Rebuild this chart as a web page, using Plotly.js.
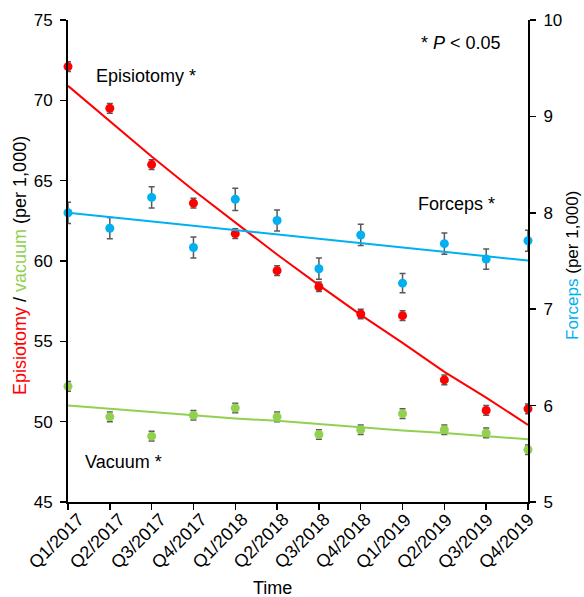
<!DOCTYPE html>
<html>
<head>
<meta charset="utf-8">
<script src="https://cdn.plot.ly/plotly-3.0.1.min.js"></script>
<style>html,body{margin:0;padding:0;background:#fff;}#chart{width:584px;height:597px;}</style>
</head>
<body>
<div id="chart"></div>
<script>
const quarters = ["Q1/2017","Q2/2017","Q3/2017","Q4/2017","Q1/2018","Q2/2018","Q3/2018","Q4/2018","Q1/2019","Q2/2019","Q3/2019","Q4/2019"];
const episiotomy = [72.1, 69.5, 66.0, 63.6, 61.7, 59.4, 58.4, 56.7, 56.6, 52.6, 50.7, 50.8];
const episiotomyErr = [0.3, 0.3, 0.3, 0.3, 0.3, 0.3, 0.3, 0.3, 0.3, 0.3, 0.3, 0.3];
const episiotomyTrend = [70.9, 68.7, 66.5, 64.4, 62.4, 60.4, 58.5, 56.65, 54.9, 53.1, 51.5, 49.8];
const vacuum = [52.2, 50.3, 49.1, 50.4, 50.85, 50.3, 49.2, 49.5, 50.5, 49.5, 49.3, 48.25];
const vacuumErr = [0.3, 0.3, 0.3, 0.3, 0.3, 0.3, 0.3, 0.3, 0.3, 0.3, 0.3, 0.3];
const vacuumTrend = [51.0, 50.8, 50.6, 50.4, 50.2, 50.05, 49.85, 49.65, 49.45, 49.3, 49.1, 48.9];
const forceps = [8.0, 7.84, 8.16, 7.64, 8.14, 7.92, 7.42, 7.77, 7.27, 7.68, 7.52, 7.71];
const forcepsErr = [0.11, 0.11, 0.11, 0.11, 0.115, 0.11, 0.11, 0.11, 0.10, 0.11, 0.105, 0.11];
const forcepsTrend = [8.0, 7.955, 7.91, 7.865, 7.82, 7.775, 7.73, 7.685, 7.64, 7.595, 7.55, 7.505];

const RED = "#ff0000", GREEN = "#92d050", BLUE = "#00b0f0", ERR = "#595959";
const FONT = "Liberation Sans, Arial, sans-serif";

function pts(y, err, color, axis) {
  return {
    x: quarters, y: y, type: "scatter", mode: "markers", yaxis: axis, cliponaxis: false,
    marker: {color: color, size: 9},
    error_y: {type: "data", array: err, visible: true, color: ERR, thickness: 1.5, width: 3},
    showlegend: false, hoverinfo: "skip"
  };
}
function trend(y, color, axis) {
  return {x: quarters, y: y, type: "scatter", mode: "lines", yaxis: axis, cliponaxis: false,
    line: {color: color, width: 2}, showlegend: false, hoverinfo: "skip"};
}

const data = [
  pts(vacuum, vacuumErr, GREEN, "y"),
  pts(episiotomy, episiotomyErr, RED, "y"),
  pts(forceps, forcepsErr, BLUE, "y2"),
  trend(vacuumTrend, GREEN, "y"),
  trend(episiotomyTrend, RED, "y"),
  trend(forcepsTrend, BLUE, "y2")
];

const ann = (text, x, y, extra) => Object.assign({
  text: text, x: x, y: y, xref: "paper", yref: "paper", showarrow: false,
  xanchor: "center", yanchor: "middle", font: {family: FONT, size: 18, color: "#000"}
}, extra || {});

const axisCommon = {
  showgrid: false, zeroline: false,
  showline: true, linecolor: "#000", linewidth: 2,
  ticks: "outside", ticklen: 6, tickwidth: 1.5, tickcolor: "#000"
};

// x tick labels (rotated) placed as annotations on the category axis;
// the label row in the reference is slightly compressed relative to the ticks
const n = quarters.length;
const tickAnns = quarters.map((q, i) => ({
  text: q, x: q, xref: "x", y: 0, yref: "paper", showarrow: false,
  textangle: -45, xanchor: "right", yanchor: "top",
  xshift: 23 - 10 * i / (n - 1), yshift: -5,
  font: {family: FONT, size: 18, color: "#000"}
}));

const layout = {
  width: 584, height: 597,
  margin: {l: 68, r: 56, t: 20, b: 95},
  paper_bgcolor: "#fff", plot_bgcolor: "#fff",
  font: {family: FONT, color: "#000"},
  xaxis: Object.assign({}, axisCommon, {
    type: "category", range: [0, 11], showticklabels: false
  }),
  yaxis: Object.assign({}, axisCommon, {
    range: [45, 75], dtick: 5, ticklabelstandoff: 4,
    tickfont: {family: FONT, size: 17, color: "#000"}
  }),
  yaxis2: Object.assign({}, axisCommon, {
    range: [5, 10], dtick: 1, overlaying: "y", side: "right", ticklabelstandoff: 4,
    tickfont: {family: FONT, size: 17, color: "#000"}
  }),
  annotations: tickAnns.concat([
    ann("Episiotomy *", 0.1696, 0.884),
    ann("* <i>P</i> < 0.05", 0.854, 0.952),
    ann("Forceps *", 0.845, 0.618),
    ann("Vacuum *", 0.1217, 0.0836),
    ann("Time", 0.445, -0.178),
    ann('<span style="color:#ff0000">Episiotomy</span> / <span style="color:#92d050">vacuum</span> (per 1,000)', -0.104, 0.49, {textangle: -90}),
    ann('<span style="color:#00b0f0">Forceps</span> (per 1,000)', 1.098, 0.49, {textangle: -90, font: {family: FONT, size: 17, color: "#000"}})
  ])
};

Plotly.newPlot("chart", data, layout, {displayModeBar: false, staticPlot: true});
</script>
</body>
</html>
